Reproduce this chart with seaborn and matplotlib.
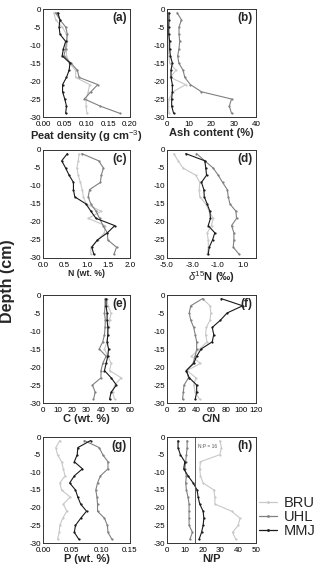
import matplotlib
matplotlib.use("Agg")
import matplotlib.pyplot as plt
import numpy as np
import pandas as pd
import seaborn as sns

# depth of each sample (cm)
depth = [-1, -3, -5, -7, -9, -11, -13, -15, -17, -19, -21, -23, -25, -27, -29]
sites = ["BRU", "UHL", "MMJ"]

# (a) peat density (g cm-3)
dens_bru = [0.025, 0.029, 0.044, 0.054, 0.056, 0.054, 0.054, 0.060, 0.075, 0.075, 0.107, 0.104, 0.099, 0.099, 0.101]
dens_uhl = [0.029, 0.039, 0.052, 0.056, 0.054, 0.052, 0.048, 0.064, 0.079, 0.083, 0.126, 0.110, 0.095, 0.132, 0.177]
dens_mmj = [0.034, 0.039, 0.037, 0.039, 0.052, 0.047, 0.044, 0.062, 0.060, 0.054, 0.045, 0.045, 0.050, 0.054, 0.052]

# (b) ash content (%)
ash_bru = [0.6, 0.5, 0.5, 0.5, 0.6, 0.6, 0.8, 1.2, 4.0, 1.5, 8.4, 2.7, 0.9, 0.6, 0.9]
ash_uhl = [4.5, 6.5, 5.4, 5.4, 5.7, 5.4, 4.8, 5.3, 7.2, 8.0, 10.5, 15.5, 29.0, 28.0, 29.0]
ash_mmj = [0.9, 0.9, 0.8, 0.8, 1.2, 1.2, 1.5, 2.4, 1.8, 1.8, 2.4, 2.4, 2.1, 2.1, 3.0]

# (c) N (wt. %)
n_bru = [0.83, 0.81, 0.78, 0.81, 0.86, 0.90, 0.93, 0.99, 1.34, 1.04, 1.43, 1.41, 1.26, 1.10, 1.10]
n_uhl = [0.89, 1.28, 1.39, 1.34, 1.32, 1.07, 1.04, 1.10, 1.22, 1.30, 1.38, 1.48, 1.49, 1.69, 1.63]
n_mmj = [0.56, 0.43, 0.52, 0.60, 0.70, 0.70, 0.73, 0.99, 1.10, 1.22, 1.65, 1.48, 1.25, 1.12, 1.17]

# (d) d15N (permil)
d15n_bru = [-4.47, -4.13, -3.74, -2.74, -2.42, -2.47, -2.42, -1.95, -1.68, -1.37, -1.50, -1.84, -1.76, -1.74, -1.84]
d15n_uhl = [-2.68, -2.03, -1.37, -0.97, -0.63, -0.26, -0.18, -0.05, 0.42, 0.47, 0.08, 0.26, 0.26, 0.21, 0.68]
d15n_mmj = [-3.53, -2.03, -1.95, -1.89, -2.29, -2.10, -2.07, -1.84, -1.63, -1.58, -1.76, -1.24, -1.42, -1.68, -1.76]

# (e) C (wt. %)
c_bru = [44.2, 44.7, 47.0, 45.9, 45.2, 44.7, 44.2, 42.4, 44.7, 47.0, 45.9, 54.0, 49.4, 48.0, 49.4]
c_uhl = [42.8, 42.8, 42.4, 43.0, 42.8, 42.4, 41.2, 38.8, 43.5, 41.2, 40.0, 40.0, 34.1, 36.0, 34.8]
c_mmj = [43.5, 43.5, 44.2, 44.2, 44.7, 44.7, 44.2, 45.2, 44.7, 43.5, 42.4, 47.0, 50.6, 47.0, 45.9]

# (f) C/N
cn_bru = [48, 58, 59, 58, 53, 52, 54, 44, 33, 45, 27, 39, 36, 38, 44]
cn_uhl = [48, 32, 30, 32, 36, 38, 40, 40, 38, 35, 26, 29, 23, 22, 21]
cn_mmj = [73, 102, 81, 72, 61, 63, 61, 46, 40, 36, 26, 30, 40, 40, 38]

# (g) P (wt. %)
p_bru = [0.029, 0.022, 0.025, 0.032, 0.035, 0.038, 0.029, 0.032, 0.047, 0.035, 0.041, 0.034, 0.029, 0.028, 0.025]
p_uhl = [0.071, 0.097, 0.103, 0.112, 0.112, 0.099, 0.094, 0.091, 0.093, 0.094, 0.094, 0.106, 0.111, 0.112, 0.119]
p_mmj = [0.082, 0.060, 0.059, 0.054, 0.068, 0.054, 0.046, 0.056, 0.060, 0.065, 0.075, 0.065, 0.056, 0.054, 0.062]

# (h) N/P
np_bru = [29.7, 30.6, 29.7, 18.8, 18.4, 18.8, 20.3, 26.3, 26.9, 26.9, 36.3, 41.0, 40.0, 36.8, 38.7]
np_uhl = [11.3, 11.3, 10.9, 10.5, 10.0, 10.9, 10.5, 10.9, 11.8, 12.4, 12.4, 12.4, 12.4, 14.3, 12.8]
np_mmj = [6.2, 6.2, 7.5, 10.0, 9.4, 11.8, 14.7, 16.9, 17.5, 18.4, 20.3, 20.7, 20.3, 19.4, 18.0]

panels = [
    ("(a)", "Peat density (g cm$^{-3}$)", (dens_bru, dens_uhl, dens_mmj), (0, 0.2), [0, 0.05, 0.10, 0.15, 0.20], "{:.2f}"),
    ("(b)", "Ash content (%)", (ash_bru, ash_uhl, ash_mmj), (0, 40), [0, 10, 20, 30, 40], "{:.0f}"),
    ("(c)", "N (wt. %)", (n_bru, n_uhl, n_mmj), (0, 2), [0, 0.5, 1.0, 1.5, 2.0], "{:.1f}"),
    ("(d)", "$\\delta^{15}$N (\u2030)", (d15n_bru, d15n_uhl, d15n_mmj), (-5, 2), [-5, -3, -1, 1], "{:.1f}"),
    ("(e)", "C (wt. %)", (c_bru, c_uhl, c_mmj), (0, 60), [0, 10, 20, 30, 40, 50, 60], "{:.0f}"),
    ("(f)", "C/N", (cn_bru, cn_uhl, cn_mmj), (0, 120), [0, 20, 40, 60, 80, 100, 120], "{:.0f}"),
    ("(g)", "P (wt. %)", (p_bru, p_uhl, p_mmj), (0, 0.15), [0, 0.05, 0.10, 0.15], "{:.2f}"),
    ("(h)", "N/P", (np_bru, np_uhl, np_mmj), (0, 50), [0, 10, 20, 30, 40, 50], "{:.0f}"),
]

sns.set_style("ticks")
plt.rcParams["font.family"] = ["Liberation Sans", "DejaVu Sans"]
plt.rcParams["axes.unicode_minus"] = False
plt.rcParams["mathtext.fontset"] = "custom"
plt.rcParams["mathtext.rm"] = "Liberation Sans"
plt.rcParams["mathtext.it"] = "Liberation Sans:italic"
plt.rcParams["mathtext.bf"] = "Liberation Sans:bold"

palette = {"BRU": "#c8c8c8", "UHL": "#808080", "MMJ": "#1a1a1a"}

fig = plt.figure(figsize=(3.2, 5.75), dpi=100)

W, H = 320, 575
col_left = [43, 167]
col_w = [87, 89]
row_top = [9, 150, 295, 437]
row_h = [108, 108, 108, 106]

axes = []
for i, (lab, xlabel, vals, xlim, xticks, fmt) in enumerate(panels):
    r, c = divmod(i, 2)
    ax = fig.add_axes([col_left[c] / W, 1 - (row_top[r] + row_h[r]) / H,
                       col_w[c] / W, row_h[r] / H])
    df = pd.DataFrame({
        "depth": depth * 3,
        "value": list(vals[0]) + list(vals[1]) + list(vals[2]),
        "site": [s for s in sites for _ in depth],
    })
    sns.lineplot(data=df, x="value", y="depth", hue="site", hue_order=sites,
                 palette=palette, marker="o", markersize=1.6, markeredgewidth=0,
                 linewidth=0.8, sort=False, estimator=None, orient="y",
                 legend=False, ax=ax)
    ax.set_xlim(*xlim)
    ax.set_ylim(-30, 0)
    ax.set_xticks(xticks)
    ax.set_xticklabels([fmt.format(t) for t in xticks])
    ax.set_yticks([0, -5, -10, -15, -20, -25, -30])
    ax.tick_params(labelsize=5.8, length=0, colors="black")
    ax.tick_params(axis="x", pad=2.6)
    ax.tick_params(axis="y", pad=1.5)
    for s in ax.spines.values():
        s.set_linewidth(0.7)
        s.set_color("#333333")
    fs = 6.3 if lab == "(c)" else 8
    ax.set_xlabel(xlabel, fontsize=fs, fontweight="bold", labelpad=0.5)
    ax.set_ylabel("")
    ax.text(0.96, 0.975, lab, transform=ax.transAxes, ha="right", va="top",
            fontsize=8.5, fontweight="bold")
    axes.append(ax)

# N:P = 16 reference line
axes[7].axvline(16, color="#555555", linewidth=0.7)
axes[7].text(17.5, -2.6, "N:P = 16", fontsize=3.5, color="#555555", va="center")

fig.text(8 / W, 1 - 281 / H, "Depth (cm)", rotation=90, fontsize=11.5, fontweight="bold",
         ha="center", va="center")

handles = [plt.Line2D([], [], color=palette[s], marker="o", markersize=2,
                      markeredgewidth=0, linewidth=0.9) for s in sites]
fig.legend(handles, sites, loc="upper left", bbox_to_anchor=(259 / W, 1 - 496 / H),
           frameon=False, fontsize=10.5, handlelength=1.25, handletextpad=0.45,
           labelspacing=0.0, borderpad=0, borderaxespad=0)

fig.savefig("out.png", dpi=100)
